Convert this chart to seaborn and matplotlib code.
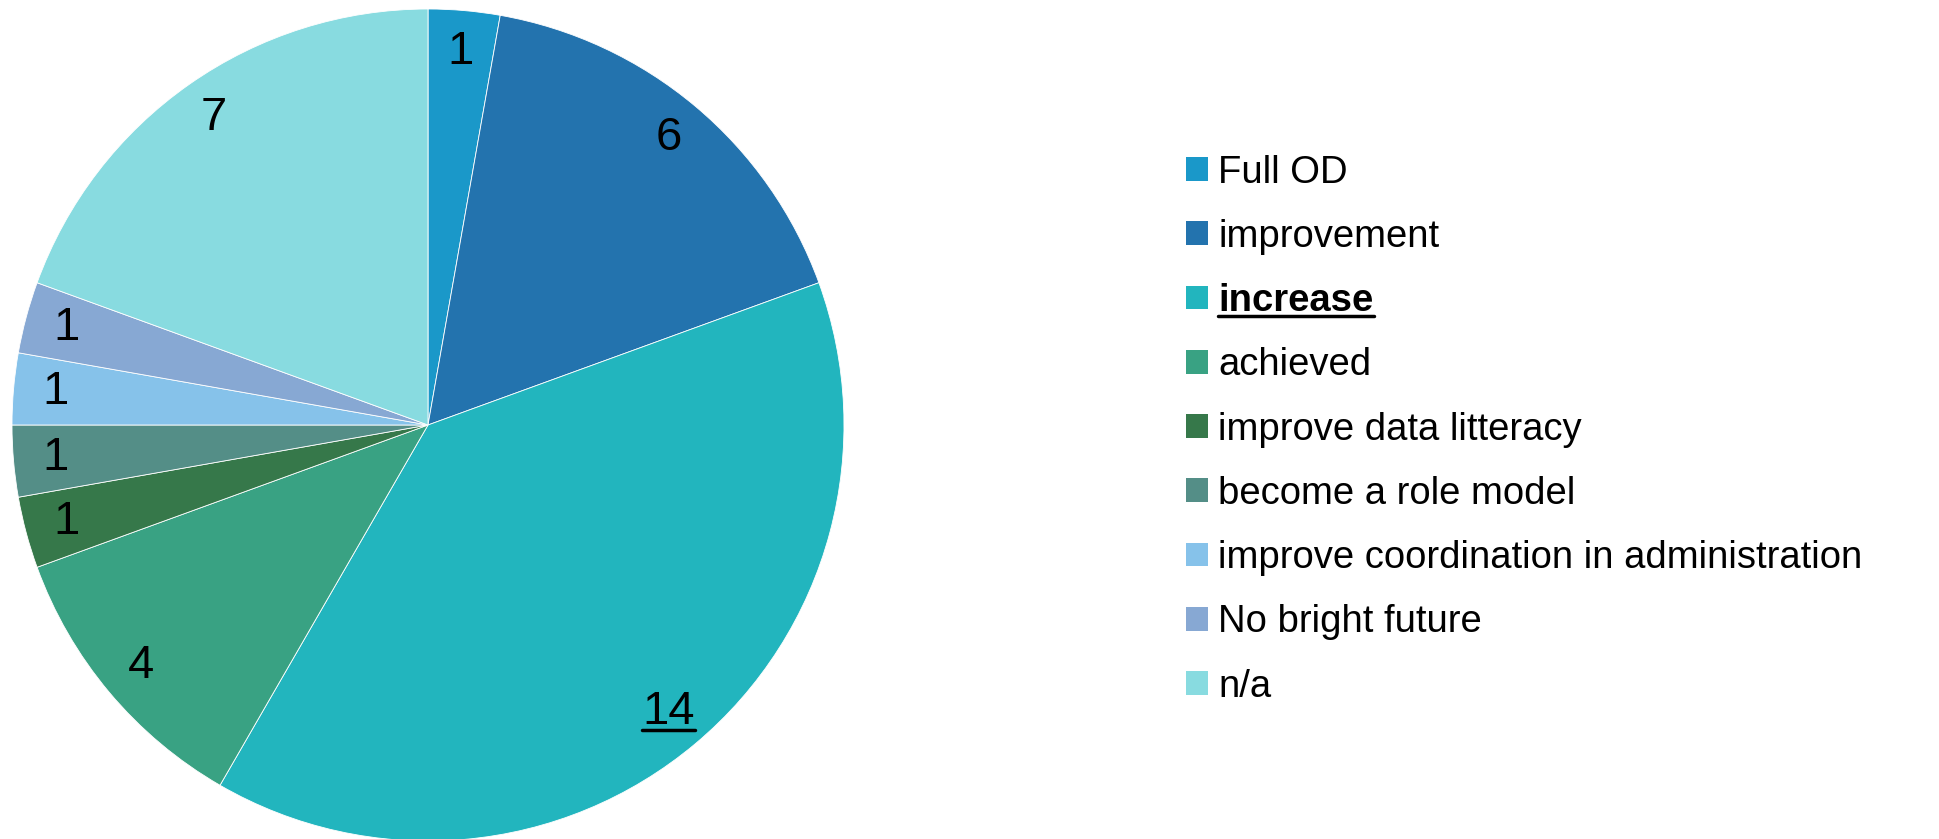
import matplotlib
matplotlib.use("Agg")
import matplotlib.pyplot as plt
import seaborn as sns
from matplotlib.lines import Line2D

# Answer categories and counts
categories = ["Full OD", "improvement", "increase", "achieved",
              "improve data litteracy", "become a role model",
              "improve coordination in administration", "No bright future", "n/a"]
counts = [1, 6, 14, 4, 1, 1, 1, 1, 7]
colors = ["#1A98C9", "#2373AE", "#22B5BE", "#39A283", "#36784A",
          "#548E87", "#86C2EA", "#87A8D3", "#88DBE0"]

sns.set_theme(style="white")
plt.rcParams["font.family"] = ["Liberation Sans", "DejaVu Sans"]
plt.rcParams["text.color"] = "black"

fig = plt.figure(figsize=(19.39, 8.39), dpi=100)
ax = fig.add_axes([12 / 1939, -2 / 839, 832 / 1939, 832 / 839])

total = sum(counts)
wedges, texts, autotexts = ax.pie(
    counts, colors=colors, startangle=90, counterclock=False,
    autopct=lambda p: f"{round(p * total / 100)}", pctdistance=0.9,
    wedgeprops=dict(linewidth=0.6, edgecolor="white"),
    textprops=dict(fontsize=34, color="black"))
ax.set_xlim(-1, 1)
ax.set_ylim(-1, 1)
ax.set_aspect("equal")

leg = fig.legend(wedges, categories, loc="center left",
                 bbox_to_anchor=(1186 / 1939, 0.488), frameon=False,
                 fontsize=27.5, handlelength=0.58, handleheight=0.58,
                 handletextpad=0.27, labelspacing=0.74, borderpad=0,
                 borderaxespad=0, labelcolor="black")
for h in leg.legend_handles:
    h.set_edgecolor("none")
leg.get_texts()[2].set_fontweight("bold")

# underline the highlighted category (legend entry and its slice value)
fig.canvas.draw()
r = fig.canvas.get_renderer()
for t in [leg.get_texts()[2], autotexts[2]]:
    bb = t.get_window_extent(r).transformed(fig.transFigure.inverted())
    y = bb.y0 + 0.004
    fig.add_artist(Line2D([bb.x0, bb.x1], [y, y], transform=fig.transFigure,
                          color="black", linewidth=2.5))

fig.savefig("out.png", dpi=100)
